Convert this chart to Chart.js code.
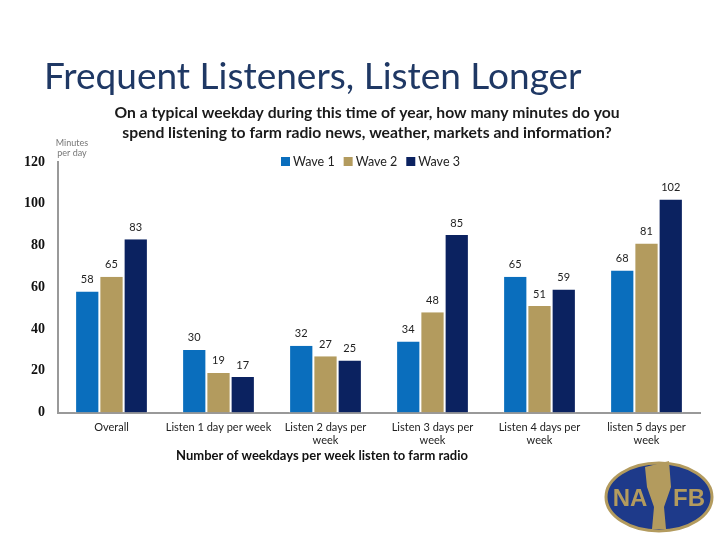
<!DOCTYPE html>
<html>
<head>
<meta charset="utf-8">
<script src="https://cdn.jsdelivr.net/npm/chart.js@4.4.0/dist/chart.umd.min.js"></script>
<style>
  html, body { margin: 0; padding: 0; background: #fff; }
  #wrap { width: 720px; height: 540px; position: relative; }
</style>
</head>
<body>
<div id="wrap"><canvas id="listenChart" width="720" height="540"></canvas></div>
<script>
const categories = [
  "Overall",
  "Listen 1 day per week",
  ["Listen 2 days per", "week"],
  ["Listen 3 days per", "week"],
  ["Listen 4 days per", "week"],
  ["listen 5 days per", "week"],
];
const wave1 = [58, 30, 32, 34, 65, 68];
const wave2 = [65, 19, 27, 48, 51, 81];
const wave3 = [83, 17, 25, 85, 59, 102];
const yTicks = [0, 20, 40, 60, 80, 100, 120];

const titleText = "Frequent Listeners, Listen Longer";
const questionLines = [
  "On a typical weekday during this time of year, how many minutes do you",
  "spend listening to farm radio news, weather, markets and information?",
];
const xTitle = "Number of weekdays per week listen to farm radio";

// titles, legend, value labels and the logo
const decorations = {
  id: "decorations",
  afterDraw(chart) {
    const ctx = chart.ctx;
    ctx.save();
    ctx.fillStyle = "#1F3864";
    ctx.font = "37px Lato, 'Open Sans', sans-serif";
    ctx.textBaseline = "middle";
    ctx.textAlign = "left";
    ctx.fillText(titleText, 44, 77);

    ctx.fillStyle = "#1a1a1a";
    ctx.font = "bold 15.7px Lato, 'Open Sans', sans-serif";
    ctx.textAlign = "center";
    ctx.fillText(questionLines[0], 367, 113);
    ctx.fillText(questionLines[1], 367, 133);

    ctx.fillStyle = "#777";
    ctx.font = "9px Lato, sans-serif";
    ctx.fillText("Minutes", 72, 143);
    ctx.fillText("per day", 72, 153);

    // legend
    ctx.font = "12.5px Lato, 'Open Sans', sans-serif";
    ctx.textAlign = "left";
    let lx = 281;
    chart.data.datasets.forEach((ds) => {
      ctx.fillStyle = ds.backgroundColor;
      ctx.fillRect(lx, 157, 9, 9);
      ctx.fillStyle = "#222";
      ctx.fillText(ds.label, lx + 12, 162);
      lx += 12 + ctx.measureText(ds.label).width + 9;
    });

    // x axis title
    ctx.textAlign = "center";
    ctx.fillStyle = "#111";
    ctx.font = "bold 13px Lato, 'Open Sans', sans-serif";
    ctx.fillText(xTitle, 322, 456);

    // value labels
    ctx.fillStyle = "#222";
    ctx.font = "11px Lato, 'Open Sans', sans-serif";
    chart.data.datasets.forEach((ds, i) => {
      chart.getDatasetMeta(i).data.forEach((bar, j) => {
        ctx.fillText(ds.data[j], bar.x, bar.y - 12);
      });
    });

    // NAFB logo
    const cx = 659, cy = 497;
    ctx.beginPath();
    ctx.ellipse(cx, cy, 53, 34, 0, 0, Math.PI * 2);
    ctx.fillStyle = "#1E3A8A";
    ctx.fill();
    ctx.lineWidth = 3;
    ctx.strokeStyle = "#B39B5E";
    ctx.stroke();
    ctx.fillStyle = "#B39B5E";
    ctx.beginPath();
    ctx.moveTo(cx - 14, cy - 30);
    ctx.lineTo(cx + 10, cy - 36);
    ctx.lineTo(cx + 12, cy - 10);
    ctx.lineTo(cx + 5, cy + 10);
    ctx.lineTo(cx + 7, cy + 32);
    ctx.lineTo(cx - 7, cy + 32);
    ctx.lineTo(cx - 5, cy + 10);
    ctx.lineTo(cx - 12, cy - 10);
    ctx.closePath();
    ctx.fill();
    ctx.font = "bold 24px 'Liberation Sans Narrow', 'Liberation Sans', sans-serif";
    ctx.fillText("NA", cx - 29, cy + 2);
    ctx.fillText("FB", cx + 30, cy + 2);
    ctx.restore();
  },
};

new Chart(document.getElementById("listenChart"), {
  type: "bar",
  data: {
    labels: categories,
    datasets: [
      { label: "Wave 1", data: wave1, backgroundColor: "#0A6EBD" },
      { label: "Wave 2", data: wave2, backgroundColor: "#B39B5E" },
      { label: "Wave 3", data: wave3, backgroundColor: "#0B2260" },
    ],
  },
  options: {
    responsive: false,
    animation: false,
    layout: { padding: { top: 162, right: 20, bottom: 90, left: 16 } },
    datasets: {
      bar: {
        categoryPercentage: 0.68,
        barPercentage: 1,
        borderColor: "#ffffff",
        borderWidth: { left: 1, right: 1 },
      },
    },
    plugins: {
      tooltip: { enabled: false },
      legend: { display: false },
    },
    scales: {
      x: {
        grid: { display: false, drawTicks: true, tickLength: 5 },
        border: { color: "#999", width: 2 },
        ticks: {
          color: "#222",
          maxRotation: 0,
          autoSkip: false,
          font: { size: 11, family: "Lato, 'Open Sans', sans-serif" },
        },
      },
      y: {
        min: 0,
        max: 120,
        afterBuildTicks(axis) {
          axis.ticks = yTicks.map((v) => ({ value: v }));
        },
        grid: { display: false, drawTicks: true, tickLength: 5 },
        border: { color: "#999", width: 2 },
        ticks: {
          color: "#111",
          padding: 8,
          font: { size: 14, weight: "bold", family: "'Liberation Serif', serif" },
        },
      },
    },
  },
  plugins: [decorations],
});
</script>
</body>
</html>
